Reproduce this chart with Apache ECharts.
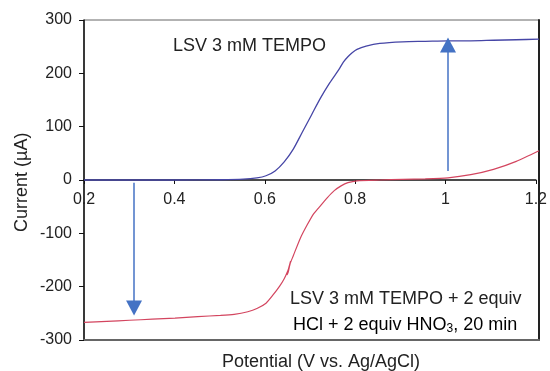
<!DOCTYPE html>
<html>
<head>
<meta charset="utf-8">
<script src="https://cdn.jsdelivr.net/npm/echarts@6/dist/echarts.min.js"></script>
<style>
html,body{margin:0;padding:0;background:#fff;}
#c{width:550px;height:371px;}
</style>
</head>
<body>
<div id="c"></div>
<script>
// ---- data ----
const xTicks = [0.2, 0.4, 0.6, 0.8, 1.0, 1.2];
const yTicks = [-300, -200, -100, 0, 100, 200, 300];
const bluePotential = [0.2,0.3,0.4,0.5,0.55,0.58,0.6,0.62,0.64,0.66,0.68,0.7,0.72,0.74,0.76,0.77,0.78,0.79,0.8,0.82,0.85,0.9,0.95,1.0,1.05,1.1,1.15,1.2];
const blueCurrent   = [0,0,0,0.5,1.5,4,8,17,34,58,90,122,154,182,207,221,231,239,245,251,256,259,260,261,261,262,263,264];
const redPotential = [0.2,0.25,0.3,0.35,0.4,0.45,0.5,0.53,0.56,0.58,0.6,0.615,0.63,0.64,0.648,0.652,0.654,0.65,0.646,0.649,0.653,0.66,0.675,0.69,0.705,0.72,0.735,0.75,0.765,0.78,0.8,0.85,0.9,0.95,1.0,1.05,1.1,1.15,1.2];
const redCurrent   = [-267,-265,-263,-261,-259,-256,-254,-252,-247,-241,-231,-216,-199,-185,-170,-160,-152,-165,-178,-172,-157,-142,-110,-85,-63,-48,-33,-20,-11,-5,-1.5,0,1,2,4,10,20,35,55];
const arrowDown = [[0.31, -5], [0.31, -240]];
const arrowUp   = [[1.0, 17], [1.0, 253]];
const label1 = 'LSV 3 mM TEMPO';
const label2a = 'LSV 3 mM TEMPO + 2 equiv';
const label2b = 'HCl + 2 equiv HNO';
const xName = 'Potential (V vs. Ag/AgCl)';
const yName = 'Current (\u00B5A)';

const FONT = '"Liberation Sans", Arial, sans-serif';
const zip = (a, b) => a.map((v, i) => [v, b[i]]);
const xMin = xTicks[0], xMax = xTicks[xTicks.length - 1];
const yMin = yTicks[0], yMax = yTicks[yTicks.length - 1];

const chart = echarts.init(document.getElementById('c'), null, {renderer: 'canvas'});
chart.setOption({
  animation: false,
  backgroundColor: '#fff',
  textStyle: {fontFamily: FONT},
  grid: [
    {left: 84, right: 11, top: 20, bottom: 31, show: true, borderColor: '#666', borderWidth: 1},
    // upper half: its bottom edge is the zero line of the main grid
    {left: 84, right: 11, top: 20, bottom: 191, show: false}
  ],
  xAxis: [{
    gridIndex: 0, type: 'value', position: 'bottom', min: xMin, max: xMax, interval: 0.2,
    axisLine: {onZero: false, lineStyle: {color: '#666', width: 2}},
    axisTick: {show: false}, axisLabel: {show: false}, splitLine: {show: false}
  }, {
    gridIndex: 1, type: 'value', position: 'bottom', min: xMin, max: xMax, interval: 0.2,
    axisLine: {onZero: false, lineStyle: {color: '#111', width: 1.5}},
    axisTick: {show: true, length: 4, lineStyle: {color: '#111', width: 1}},
    axisLabel: {fontSize: 16, color: '#222', margin: 12, fontFamily: FONT,
      formatter: v => String(+(+v).toFixed(1))},
    splitLine: {show: false}, z: 1
  }],
  yAxis: [{
    gridIndex: 0, type: 'value', min: yMin, max: yMax, interval: 100,
    axisLine: {show: true, onZero: false, lineStyle: {color: '#111', width: 1.5}},
    axisTick: {show: true, length: 5, lineStyle: {color: '#111'}},
    axisLabel: {fontSize: 16, color: '#222', margin: 12, fontFamily: FONT},
    splitLine: {show: false}
  }, {
    gridIndex: 0, type: 'value', position: 'right', min: yMin, max: yMax,
    axisLine: {show: true, onZero: false, lineStyle: {color: '#222', width: 2}},
    axisTick: {show: false}, axisLabel: {show: false}, splitLine: {show: false}
  }, {
    gridIndex: 1, type: 'value', min: 0, max: yMax, show: false
  }],
  series: [{
    type: 'line', name: 'TEMPO', xAxisIndex: 0, yAxisIndex: 0, data: zip(bluePotential, blueCurrent),
    showSymbol: false, smooth: 0.3, lineStyle: {color: '#4646a6', width: 1.3}, z: 3
  }, {
    type: 'line', name: 'TEMPO+acid', xAxisIndex: 0, yAxisIndex: 0, data: zip(redPotential, redCurrent),
    showSymbol: false, smooth: 0.2, lineStyle: {color: '#d3455f', width: 1.2}, z: 3
  }, {
    type: 'line', name: 'arrows', xAxisIndex: 0, yAxisIndex: 0, data: [], silent: true,
    markLine: {
      silent: true, animation: false,
      symbol: ['none', 'triangle'], symbolSize: [16, 15],
      label: {show: false},
      lineStyle: {color: '#4472c4', width: 1.5, type: 'solid'},
      data: [
        [{coord: arrowDown[0]}, {coord: arrowDown[1]}],
        [{coord: arrowUp[0]}, {coord: arrowUp[1]}]
      ]
    }
  }],
  graphic: [
    {type: 'text', left: 173, top: 37, style: {text: label1, font: '18px ' + FONT, fill: '#222'}},
    {type: 'text', left: 290, top: 290, style: {text: label2a, font: '18px ' + FONT, fill: '#222'}},
    {type: 'text', left: 293, top: 316, style: {
      text: '{a|' + label2b + '}{s|3}{a|, 20 min}',
      rich: {a: {fontSize: 18, fontFamily: FONT, color: '#222'},
             s: {fontSize: 12, fontFamily: FONT, color: '#222', verticalAlign: 'bottom', padding: [8, 0, 0, 0]}}
    }},
    {type: 'text', left: 222, top: 353, style: {text: xName, font: '18px ' + FONT, fill: '#222'}},
    {type: 'text', x: 13, y: 232, rotation: Math.PI / 2, style: {text: yName, font: '18px ' + FONT, fill: '#222'}}
  ]
});
</script>
</body>
</html>
